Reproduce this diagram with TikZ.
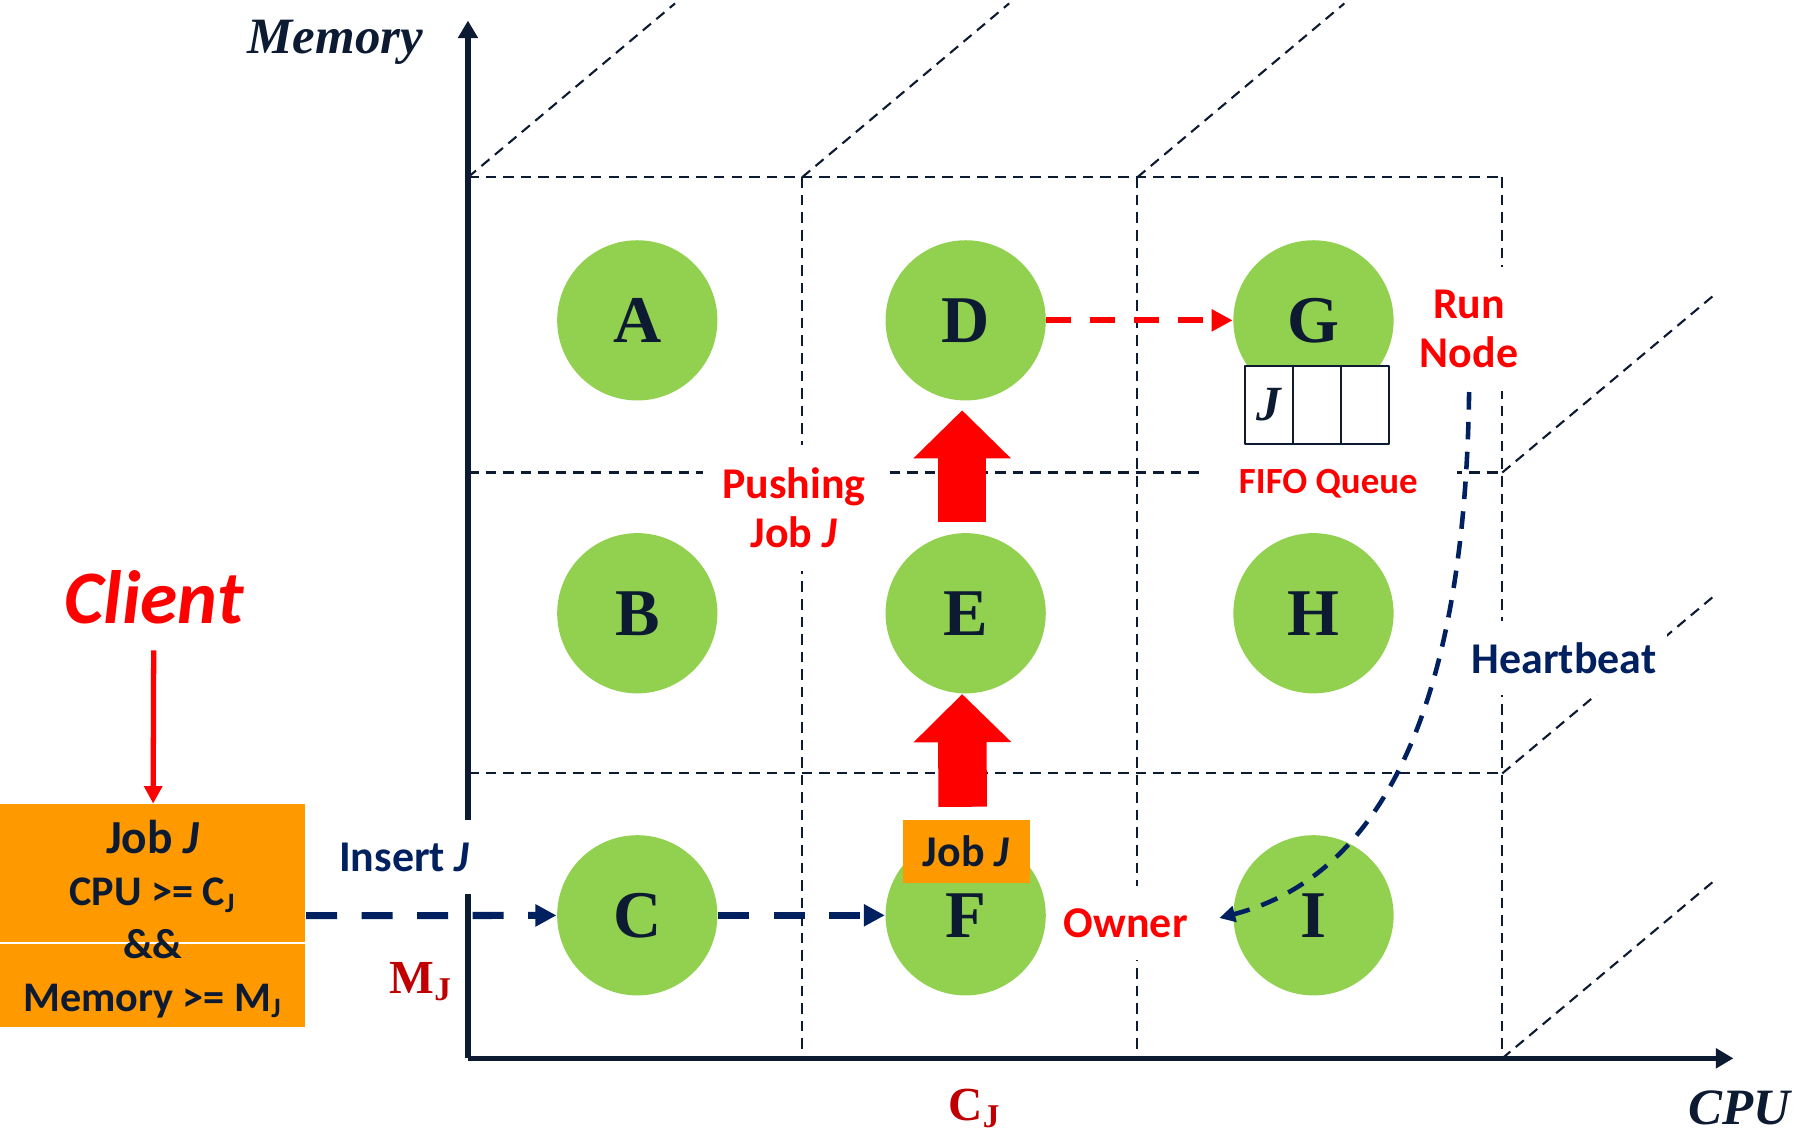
\documentclass[tikz,border=0pt]{standalone}
\usepackage{fontspec}
\setmainfont{Carlito}
\newfontfamily\tnr{Liberation Serif}
\usetikzlibrary{arrows.meta,positioning}

\definecolor{nodegreen}{RGB}{146,208,80}
\definecolor{joborange}{RGB}{255,153,0}
\definecolor{hbnavy}{RGB}{0,32,96}
\definecolor{ink}{RGB}{13,27,50}
\definecolor{labred}{RGB}{255,0,0}
\definecolor{axred}{RGB}{192,0,0}

\begin{document}
\begin{tikzpicture}[x=.011441cm, y=-.011441cm, line join=round,
	server/.style={circle, fill=nodegreen, minimum size=45.6pt, inner sep=0pt, text=ink, font=\tnr\bfseries\fontsize{19}{19}\selectfont},
	cellline/.style={ink, line width=.6pt, dash pattern=on 3pt off 2pt},
	axisline/.style={ink, line width=1.5pt, -{Triangle[length=5pt,width=5.5pt]}},
	lbl/.style={fill=white, inner xsep=3pt, inner ysep=0pt, minimum height=21pt, align=center, font=\bfseries\fontsize{12.5}{14}\selectfont},
	axlbl/.style={anchor=base, text=axred, font=\tnr\bfseries\fontsize{13.5}{14}\selectfont},
	jobbox/.style={fill=joborange, inner sep=0pt},
	qcell/.style={draw=ink, fill=white, line width=.7pt, minimum width=13.7pt, minimum height=22.1pt, inner sep=0pt, outer sep=0pt, text=ink, font=\tnr\bfseries\itshape\fontsize{14}{14}\selectfont},
	reqarr/.style={labred, line width=1.5pt, -{Triangle[length=5pt,width=5pt]}},
	insarr/.style={hbnavy, line width=2pt, dash pattern=on 8.8pt off 7pt, -{Triangle[length=6pt,width=6pt]}},
	fwdarr/.style={labred, line width=1.7pt, dash pattern=on 7pt off 5.5pt, -{Triangle[length=6pt,width=6pt]}},
	hbarr/.style={hbnavy, line width=1.3pt, dash pattern=on 5pt off 3.5pt, -{Triangle[length=4.5pt,width=4.5pt]}},
	push/.style={labred, line width=13.8pt, -{Triangle[length=13.7pt,width=27pt]}}]
	\useasboundingbox (0,0) rectangle (1568,989);
	% grid cells and the depth lines
	\foreach \x in {701,994,1313} \draw[cellline] (\x,155) -- (\x,925);
	\foreach \y in {155,413,676} \draw[cellline] (409,\y) -- (1313,\y);
	\foreach \x in {409,701,994} \draw[cellline] (\x,155) -- ++(181,-152);
	\foreach \y in {413,676,925} \draw[cellline] (1313,\y) -- ++(185,-155);
	% axes
	\draw[axisline] (409,925) -- (409,18);
	\draw[axisline] (409,925) -- (1515,925);
	\node[anchor=base, text=ink, font=\tnr\bfseries\itshape\fontsize{14.5}{16}\selectfont] (mem) at (293,46.6) {Memory};
	\node[anchor=base, text=ink, font=\tnr\bfseries\itshape\fontsize{14.5}{16}\selectfont] (cpu) at (1520,983) {CPU};
	\node[axlbl] (mj) at (368,868) {M\textsubscript{J}};
	\node[axlbl] (cj) at (852,979) {C\textsubscript{J}};
	% labels (white boxes cut the grid)
	\node[lbl, text=hbnavy, inner xsep=1.5pt] (ins) at (353.5,749) {Insert \textit{J}};
	\node[lbl, text=labred, minimum width=52pt, minimum height=36pt] (pushlbl) at (694,444) {Pushing\\Job \textit{J}};
	\node[lbl, text=labred, minimum height=35.5pt] (run) at (1284,287.5) {Run\\Node};
	\node[lbl, text=labred, minimum width=73pt, font=\bfseries\fontsize{10.5}{12}\selectfont] (fifo) at (1161,423) {FIFO Queue};
	\node[lbl, text=hbnavy] (hb) at (1367,575) {Heartbeat};
	\node[lbl, text=labred] (own) at (984,807) {Owner};
	% nodes
	\node[server] (A) at (557,280) {A};
	\node[server] (D) at (844,280) {D};
	\node[server] (G) at (1148,280) {G};
	\node[server] (B) at (557,536) {B};
	\node[server] (E) at (844,536) {E};
	\node[server] (H) at (1148,536) {H};
	\node[server] (C) at (557,800) {C};
	\node[server] (F) at (844,800) {F};
	\node[server] (I) at (1148,800) {I};
	% queue of G
	\node[qcell] (q1) at (1109,354) {J};
	\node[qcell, right=0pt of q1] (q2) {};
	\node[qcell, right=0pt of q2] (q3) {};
	% client and job
	\node[text=labred, font=\bfseries\itshape\fontsize{21.5}{24}\selectfont] (client) at (134.5,522) {Client};
	\node[jobbox, minimum width=86.9pt, minimum height=63.5pt] (job) at (133.5,800.5) {};
	\draw[white, line width=.6pt] (job.west |- 0,824.5) -- (job.east |- 0,824.5);
	\node[align=center, text=ink, font=\bfseries\fontsize{12}{15}\selectfont] (jobtxt) at (133.5,803) {{\fontsize{13.5}{15}\selectfont Job \textit{J}}\\CPU >= C\textsubscript{J}\\\&\&\\Memory >= M\textsubscript{J}};
	\node[jobbox, minimum width=36.1pt, minimum height=17.9pt, text=ink, font=\bfseries\fontsize{12.5}{14}\selectfont] (jobf) at (844.5,744) {Job \textit{J}};
	% arrows
	\draw[reqarr, shorten <=4pt] (client) -- (job);
	\draw[insarr] (job) -- (C);
	\draw[insarr] (C) -- (F);
	\draw[fwdarr] (D) -- (G);
	\draw[push, shorten <=3pt, shorten >=2.6pt] ([xshift=-1pt]E.north) -- ([xshift=-1pt]D.south);
	\draw[push, shorten <=3.5pt] ([xshift=-1pt]jobf.north) -- ([xshift=-1pt]E.south);
	\draw[hbarr, shorten >=6pt] (run.south) .. controls (1280,650) and (1190,770) .. (own.east);
\end{tikzpicture}
\end{document}
